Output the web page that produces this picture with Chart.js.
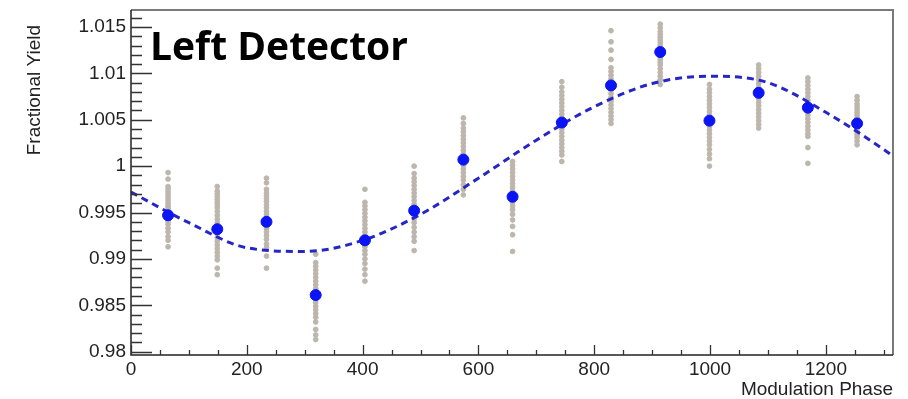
<!DOCTYPE html>
<html>
<head>
<meta charset="utf-8">
<script src="https://cdn.jsdelivr.net/npm/chart.js@4.4.1/dist/chart.umd.min.js"></script>
<style>
  html, body { margin: 0; padding: 0; background: #fff; }
</style>
</head>
<body>
<canvas id="chart" width="908" height="399"></canvas>
<script>
// modulation phase of each run group
const phases = [64, 149, 234, 319, 404, 489, 574, 659, 744, 829, 914, 999, 1084, 1169, 1254];

// mean fractional yield per phase (blue)
const meanYield = [0.9947, 0.9932, 0.9940, 0.9861, 0.9920, 0.9952, 1.0007, 0.9967,
  1.0047, 1.0087, 1.0123, 1.0049, 1.0079, 1.0063, 1.0046];

// individual runs per phase (grey)
const runYield = [
  [0.9993, 0.9986, 0.9978, 0.9975, 0.9972, 0.9969, 0.9966, 0.9963, 0.9960, 0.9957, 0.9955, 0.9952, 0.9949, 0.9946, 0.9943, 0.9940, 0.9937, 0.9933, 0.9929, 0.9924, 0.9920, 0.9913],
  [0.9978, 0.9973, 0.9970, 0.9967, 0.9964, 0.9961, 0.9958, 0.9955, 0.9951, 0.9947, 0.9943, 0.9939, 0.9935, 0.9931, 0.9927, 0.9923, 0.9919, 0.9915, 0.9911, 0.9907, 0.9903, 0.9899, 0.9890, 0.9883],
  [0.9987, 0.9982, 0.9975, 0.9971, 0.9968, 0.9965, 0.9962, 0.9958, 0.9955, 0.9951, 0.9948, 0.9944, 0.9940, 0.9936, 0.9933, 0.9929, 0.9925, 0.9921, 0.9916, 0.9912, 0.9903, 0.9890],
  [0.9905, 0.9896, 0.9892, 0.9888, 0.9884, 0.9880, 0.9876, 0.9872, 0.9868, 0.9864, 0.9860, 0.9857, 0.9853, 0.9849, 0.9845, 0.9841, 0.9837, 0.9832, 0.9824, 0.9818, 0.9813],
  [0.9975, 0.9961, 0.9957, 0.9953, 0.9949, 0.9945, 0.9941, 0.9937, 0.9933, 0.9929, 0.9925, 0.9921, 0.9917, 0.9913, 0.9909, 0.9905, 0.9900, 0.9895, 0.9889, 0.9883, 0.9876],
  [1.0000, 0.9992, 0.9987, 0.9983, 0.9979, 0.9975, 0.9971, 0.9967, 0.9963, 0.9959, 0.9955, 0.9951, 0.9947, 0.9943, 0.9939, 0.9934, 0.9929, 0.9924, 0.9919, 0.9909],
  [1.0052, 1.0046, 1.0041, 1.0037, 1.0033, 1.0029, 1.0025, 1.0021, 1.0017, 1.0013, 1.0009, 1.0005, 1.0001, 0.9997, 0.9993, 0.9989, 0.9985, 0.9980, 0.9975, 0.9969],
  [1.0005, 1.0001, 0.9997, 0.9993, 0.9989, 0.9985, 0.9981, 0.9977, 0.9973, 0.9969, 0.9965, 0.9961, 0.9957, 0.9953, 0.9948, 0.9942, 0.9935, 0.9926, 0.9908],
  [1.0091, 1.0085, 1.0080, 1.0076, 1.0072, 1.0068, 1.0064, 1.0060, 1.0056, 1.0052, 1.0048, 1.0044, 1.0040, 1.0036, 1.0032, 1.0028, 1.0024, 1.0020, 1.0016, 1.0012, 1.0005],
  [1.0146, 1.0134, 1.0125, 1.0115, 1.0106, 1.0102, 1.0098, 1.0094, 1.0090, 1.0086, 1.0082, 1.0078, 1.0074, 1.0070, 1.0066, 1.0062, 1.0058, 1.0054, 1.0050, 1.0046],
  [1.0153, 1.0149, 1.0145, 1.0142, 1.0139, 1.0136, 1.0133, 1.0130, 1.0127, 1.0124, 1.0121, 1.0118, 1.0115, 1.0112, 1.0109, 1.0105, 1.0101, 1.0097, 1.0093, 1.0088],
  [1.0088, 1.0083, 1.0079, 1.0075, 1.0071, 1.0067, 1.0063, 1.0059, 1.0055, 1.0051, 1.0047, 1.0043, 1.0039, 1.0035, 1.0031, 1.0027, 1.0023, 1.0018, 1.0013, 1.0008, 1.0000],
  [1.0109, 1.0105, 1.0101, 1.0097, 1.0093, 1.0089, 1.0085, 1.0081, 1.0077, 1.0073, 1.0069, 1.0065, 1.0061, 1.0057, 1.0053, 1.0049, 1.0045, 1.0041],
  [1.0095, 1.0091, 1.0087, 1.0083, 1.0079, 1.0075, 1.0071, 1.0067, 1.0063, 1.0059, 1.0055, 1.0051, 1.0047, 1.0043, 1.0039, 1.0035, 1.0032, 1.0020, 1.0003],
  [1.0075, 1.0071, 1.0067, 1.0064, 1.0061, 1.0058, 1.0055, 1.0052, 1.0049, 1.0046, 1.0043, 1.0040, 1.0037, 1.0034, 1.0031, 1.0027, 1.0023]
];

// fitted curve
const fitPhase = [0, 100, 200, 300, 400, 500, 600, 700, 800, 900, 1000, 1100, 1200, 1300, 1316];
const fitYield = [0.9972, 0.9939, 0.9912, 0.9908, 0.9920, 0.9948, 0.9987, 1.0028, 1.0064,
  1.0089, 1.0097, 1.0090, 1.0058, 1.0018, 1.0011];

const xTicks = [0, 200, 400, 600, 800, 1000, 1200];
const yTicks = [0.98, 0.985, 0.99, 0.995, 1, 1.005, 1.01, 1.015];
const yTickLabels = ["0.98", "0.985", "0.99", "0.995", "1", "1.005", "1.01", "1.015"];

const font = "'Liberation Sans', Arial, sans-serif";

const runPoints = [];
phases.forEach((p, i) => {
  runYield[i].forEach(v => runPoints.push({ x: p, y: v }));
});

// frame, inner tick marks, y title and the big label
const decor = {
  id: "decor",
  afterDraw(chart) {
    const { ctx, chartArea: a, scales: { x, y } } = chart;
    ctx.save();

    ctx.strokeStyle = "#7a7a7a";
    ctx.lineWidth = 2;
    ctx.beginPath();
    ctx.moveTo(a.left, a.top);
    ctx.lineTo(a.right, a.top);
    ctx.lineTo(a.right, a.bottom);
    ctx.stroke();

    ctx.strokeStyle = "#222";
    ctx.lineWidth = 1.5;
    ctx.beginPath();
    ctx.moveTo(a.left, a.top);
    ctx.lineTo(a.left, a.bottom);
    ctx.lineTo(a.right, a.bottom);
    ctx.stroke();

    ctx.strokeStyle = "#333";
    ctx.lineWidth = 1.3;
    ctx.beginPath();
    for (let i = 980; i <= 1016; i++) {
      const py = Math.round(y.getPixelForValue(i / 1000)) + 0.5;
      const len = i % 5 === 0 ? 21 : 11;
      ctx.moveTo(a.left, py);
      ctx.lineTo(a.left + len, py);
    }
    for (let i = 0; i <= 1300; i += 50) {
      const px = Math.round(x.getPixelForValue(i)) + 0.5;
      const len = i % 200 === 0 ? 10 : 5;
      ctx.moveTo(px, a.bottom);
      ctx.lineTo(px, a.bottom - len);
    }
    ctx.stroke();

    ctx.fillStyle = "#222";
    ctx.font = "19px " + font;
    ctx.translate(40, 25);
    ctx.rotate(-Math.PI / 2);
    ctx.textAlign = "right";
    ctx.textBaseline = "alphabetic";
    ctx.fillText("Fractional Yield", 0, 0);
    ctx.setTransform(1, 0, 0, 1, 0, 0);

    ctx.fillStyle = "#000";
    ctx.font = "bold 39px 'Open Sans', Lato, sans-serif";
    ctx.textAlign = "left";
    ctx.fillText("Left Detector", 150, 60);
    ctx.restore();
  }
};

new Chart(document.getElementById("chart"), {
  type: "scatter",
  data: {
    datasets: [
      {
        label: "mean",
        data: phases.map((p, i) => ({ x: p, y: meanYield[i] })),
        backgroundColor: "#0a14f5",
        borderColor: "#0a14f5",
        pointRadius: 5.5,
        order: 0
      },
      {
        label: "fit",
        type: "line",
        data: fitPhase.map((p, i) => ({ x: p, y: fitYield[i] })),
        borderColor: "#2626c8",
        borderWidth: 3,
        borderDash: [7, 5],
        pointRadius: 0,
        cubicInterpolationMode: "monotone",
        fill: false,
        order: 1
      },
      {
        label: "runs",
        data: runPoints,
        backgroundColor: "#bdb6ad",
        borderColor: "#bdb6ad",
        pointRadius: 2.4,
        order: 2
      }
    ]
  },
  options: {
    responsive: false,
    animation: false,
    layout: { padding: { top: 10, right: 15, left: 0, bottom: 0 } },
    plugins: {
      legend: { display: false },
      tooltip: { enabled: false }
    },
    scales: {
      x: {
        type: "linear",
        min: 0,
        max: 1316,
        grid: { display: false, drawTicks: false },
        border: { display: false },
        afterBuildTicks: s => { s.ticks = xTicks.map(v => ({ value: v })); },
        afterFit: s => { s.height = 44; },
        ticks: {
          color: "#222",
          font: { family: font, size: 19 },
          padding: 3,
          maxRotation: 0,
          callback: v => String(v)
        },
        title: {
          display: true,
          text: "Modulation Phase",
          align: "end",
          color: "#222",
          font: { family: font, size: 19, lineHeight: 1 },
          padding: 0
        }
      },
      y: {
        type: "linear",
        min: 0.97964,
        max: 1.01683,
        grid: { display: false, drawTicks: false },
        border: { display: false },
        afterBuildTicks: s => { s.ticks = yTicks.map(v => ({ value: v })); },
        afterFit: s => { s.width = 131; },
        ticks: {
          color: "#222",
          font: { family: font, size: 19, lineHeight: 0.5 },
          padding: 5,
          callback: v => yTickLabels[yTicks.indexOf(v)] ?? ""
        }
      }
    }
  },
  plugins: [decor]
});
</script>
</body>
</html>
